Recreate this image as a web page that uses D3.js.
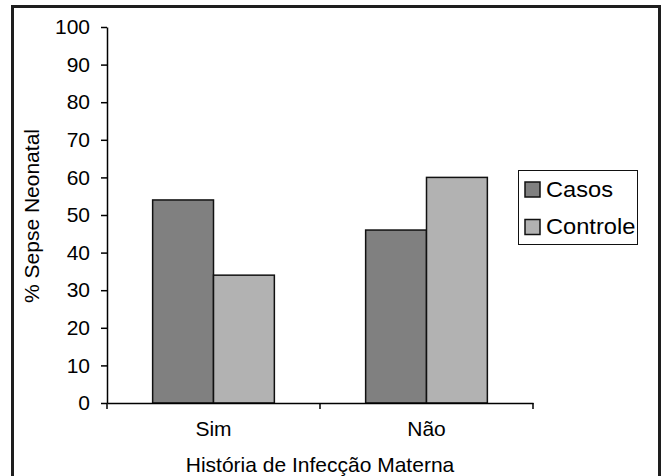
<!DOCTYPE html>
<html>
<head>
<meta charset="utf-8">
<script src="https://cdn.jsdelivr.net/npm/d3@7"></script>
<style>
  html, body { margin: 0; padding: 0; background: #ffffff; }
  svg { display: block; }
  text { font-family: "Liberation Sans", Arial, Helvetica, sans-serif; fill: #000; }
</style>
</head>
<body>
<svg id="chart" width="664" height="476"></svg>
<script>
// Data
const categories = ["Sim", "Não"];
const seriesNames = ["Casos", "Controle"];
const casos = [54, 46];
const controle = [34, 60];
const yTicks = [0, 10, 20, 30, 40, 50, 60, 70, 80, 90, 100];

const seriesValues = [casos, controle];
const colors = ["#808080", "#b2b2b2"];

const svg = d3.select("#chart");

// Outer frame
svg.append("rect")
  .attr("x", 12.5).attr("y", 6.5)
  .attr("width", 647).attr("height", 480)
  .attr("fill", "none")
  .attr("stroke", "#1e1e1e")
  .attr("stroke-width", 3);

const plot = { left: 107, right: 533, top: 27, bottom: 403 };

const y = d3.scaleLinear().domain([0, 100]).range([plot.bottom, plot.top]);
const x = d3.scaleBand().domain(categories).range([plot.left, plot.right]).padding(0);
const xs = d3.scaleBand().domain(seriesNames).range([0, x.bandwidth()])
  .paddingInner(0).paddingOuter(0.75);

// Bars
const groups = svg.append("g").selectAll("g")
  .data(categories)
  .join("g")
  .attr("transform", d => `translate(${x(d)},0)`);

groups.selectAll("rect")
  .data((c, i) => seriesNames.map((s, k) => ({ s, v: seriesValues[k][i], k })))
  .join("rect")
  .attr("x", d => xs(d.s))
  .attr("y", d => y(d.v))
  .attr("width", xs.bandwidth())
  .attr("height", d => y(0) - y(d.v))
  .attr("fill", d => colors[d.k])
  .attr("stroke", "#111")
  .attr("stroke-width", 1.5);

// Y axis
const yAxis = svg.append("g")
  .attr("transform", `translate(${plot.left},0)`)
  .call(d3.axisLeft(y).tickValues(yTicks).tickSize(6).tickPadding(11).tickSizeOuter(0));
yAxis.select(".domain").attr("stroke", "#000").attr("stroke-width", 1.5);
yAxis.selectAll(".tick line").attr("stroke", "#000").attr("stroke-width", 1.5);
yAxis.selectAll(".tick text")
  .style("font-family", '"Liberation Sans", Arial, sans-serif')
  .style("font-size", "21px").attr("fill", "#000");

// X axis: line, tick marks at category boundaries, centered labels
const xAxis = svg.append("g").attr("transform", `translate(0,${plot.bottom})`);
xAxis.call(d3.axisBottom(x).tickSize(0).tickPadding(0).tickSizeOuter(0));
xAxis.select(".domain").attr("stroke", "#000").attr("stroke-width", 1.5);
xAxis.selectAll(".tick text")
  .attr("y", 33)
  .attr("dy", 0)
  .style("font-family", '"Liberation Sans", Arial, sans-serif')
  .style("font-size", "21px").attr("fill", "#000");
const edges = [x.range()[0]].concat(categories.map(c => x(c) + x.bandwidth()));
xAxis.selectAll("line.edge")
  .data(edges)
  .join("line")
  .attr("class", "edge")
  .attr("x1", d => d).attr("x2", d => d)
  .attr("y1", 0).attr("y2", 6)
  .attr("stroke", "#000").attr("stroke-width", 1.5);

// Axis titles
svg.append("text")
  .attr("transform", `translate(38.5,${(plot.top + plot.bottom) / 2 + 1}) rotate(-90)`)
  .attr("text-anchor", "middle")
  .style("font-size", "21px")
  .text("% Sepse Neonatal");

svg.append("text")
  .attr("x", (plot.left + plot.right) / 2)
  .attr("y", 472)
  .attr("text-anchor", "middle")
  .style("font-size", "21px")
  .text("História de Infecção Materna");

// Legend
const legend = svg.append("g");
legend.append("rect")
  .attr("x", 518.5).attr("y", 170.5)
  .attr("width", 119).attr("height", 74)
  .attr("fill", "#fff").attr("stroke", "#111").attr("stroke-width", 1);

const items = legend.selectAll("g.item")
  .data(seriesNames)
  .join("g")
  .attr("class", "item")
  .attr("transform", (d, i) => `translate(525,${182 + i * 37.5})`);
items.append("rect")
  .attr("width", 15).attr("height", 15)
  .attr("fill", (d, i) => colors[i])
  .attr("stroke", "#111").attr("stroke-width", 1.5);
items.append("text")
  .attr("transform", "translate(21,14.5) scale(1.1,1)")
  .style("font-size", "21.5px")
  .text(d => d);
</script>
</body>
</html>
